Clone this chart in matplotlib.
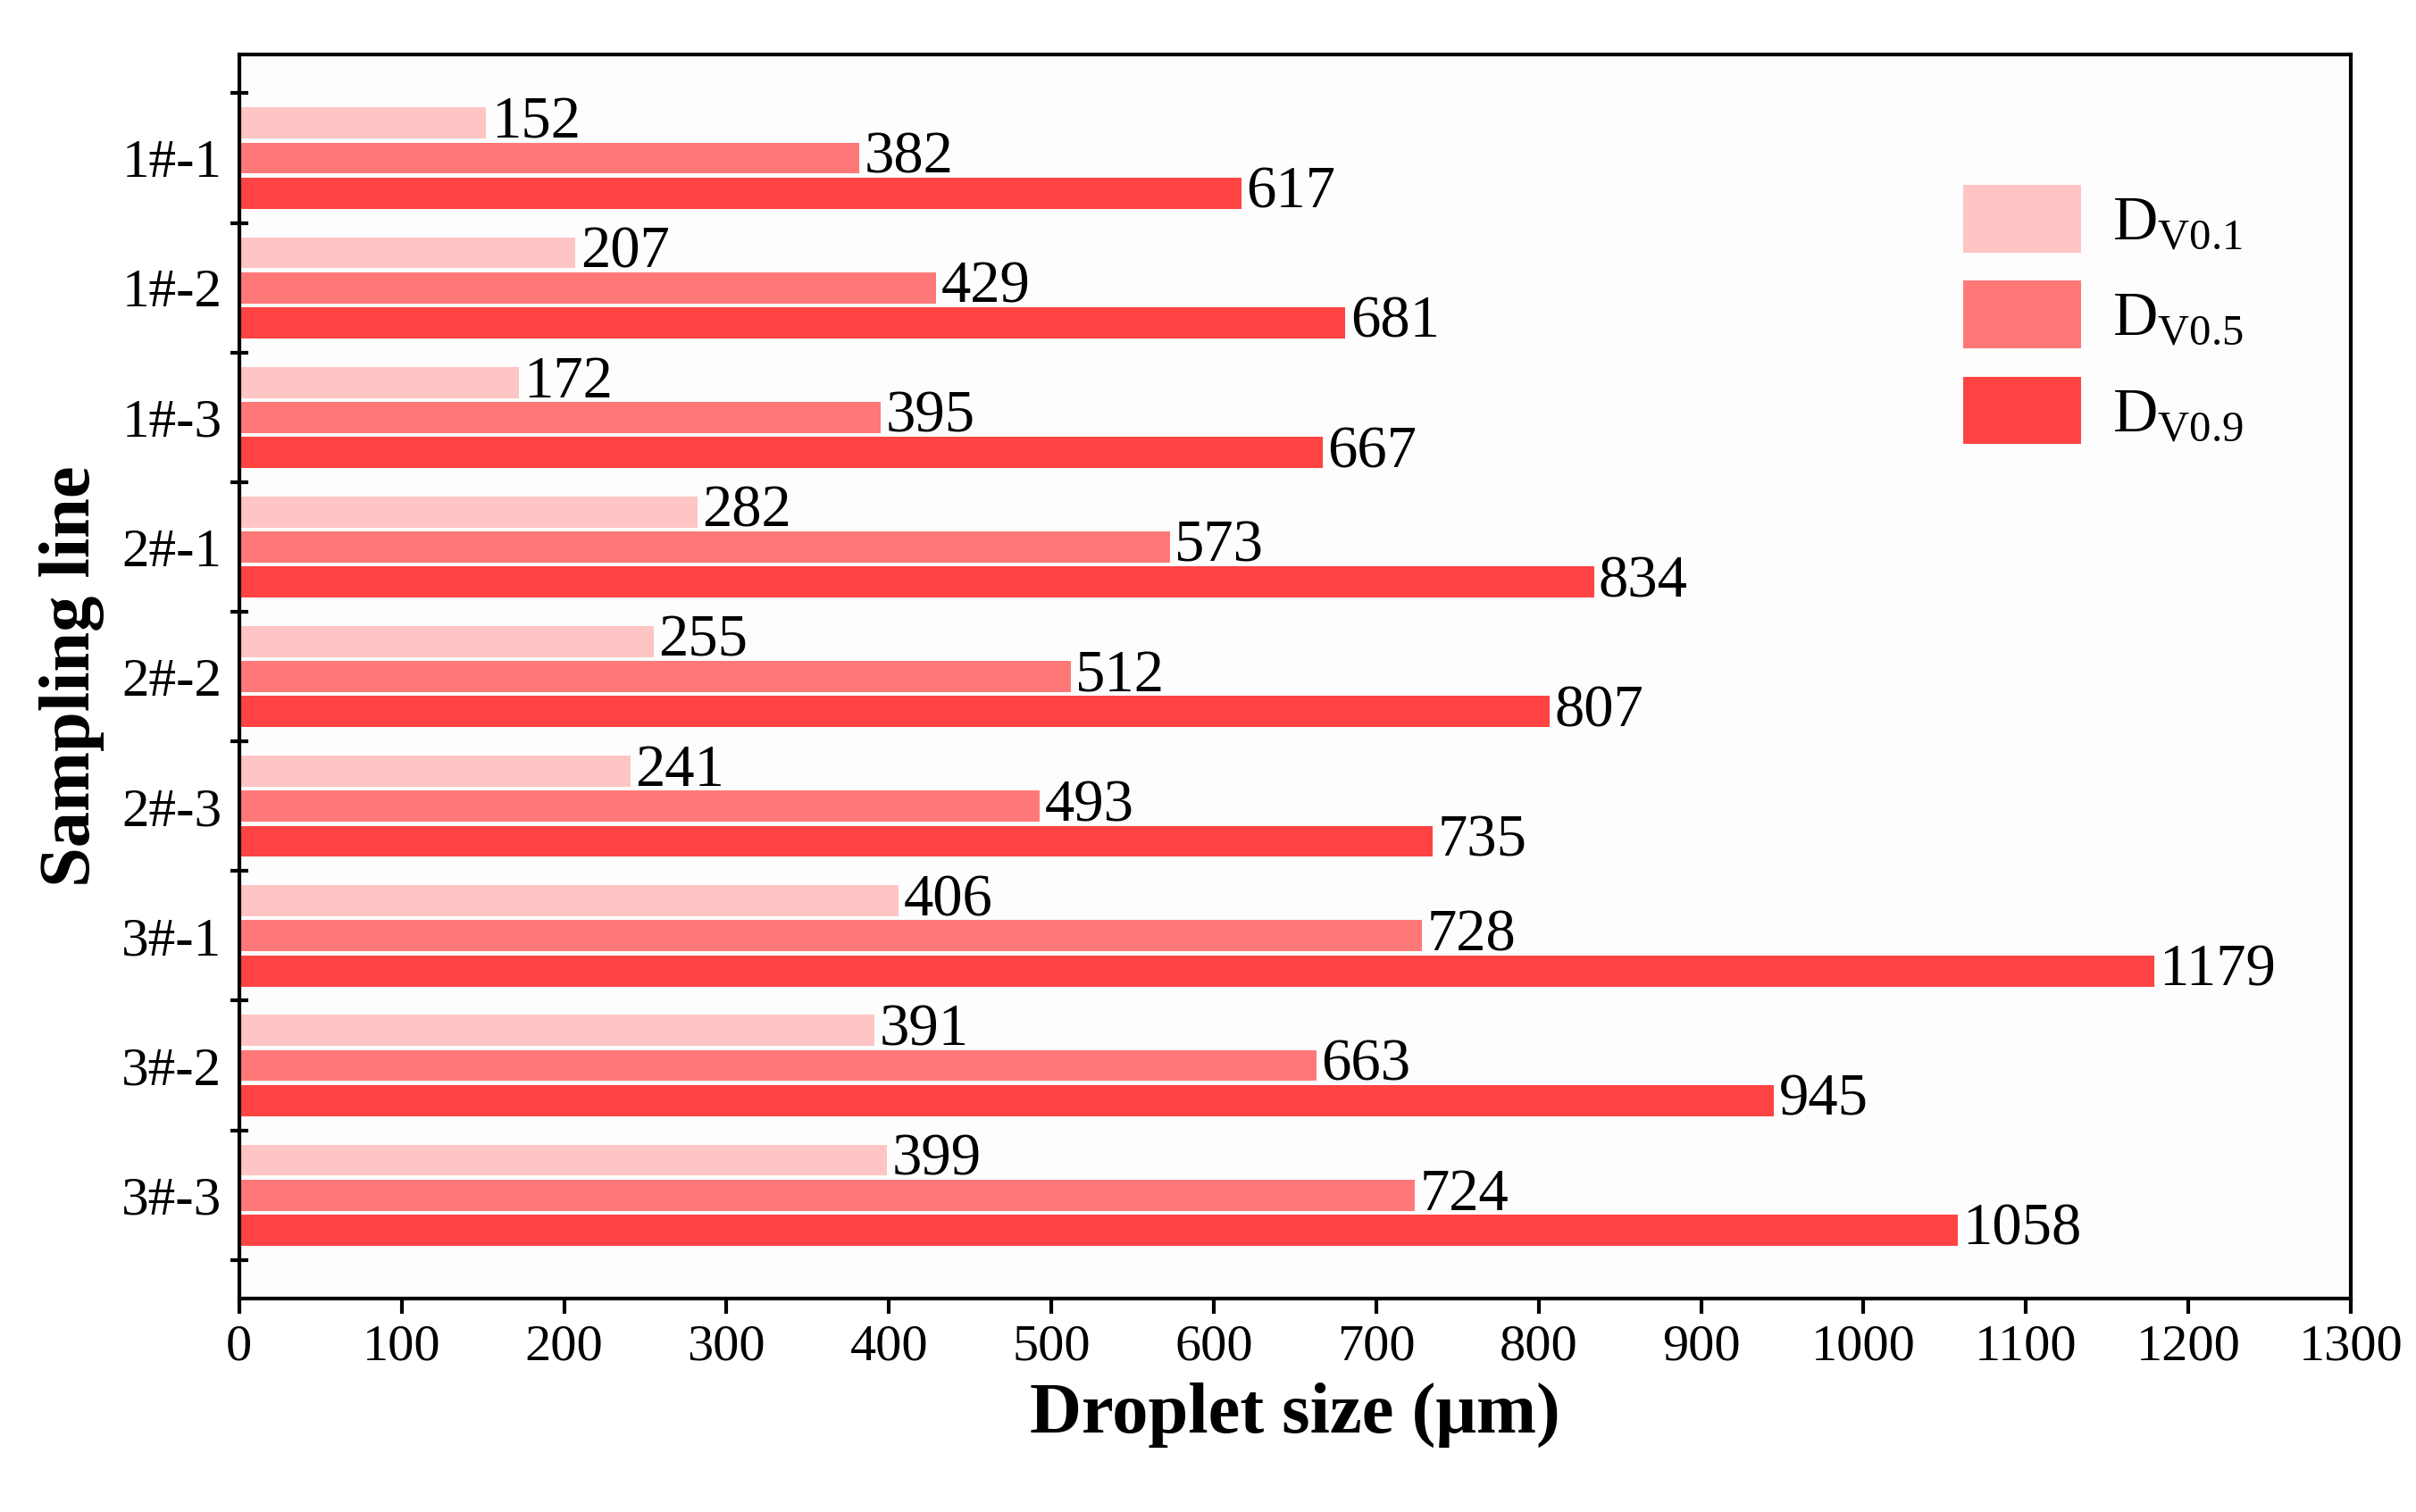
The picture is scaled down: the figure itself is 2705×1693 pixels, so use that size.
import matplotlib
matplotlib.use("Agg")
import matplotlib.pyplot as plt
import numpy as np

categories = ["1#-1","1#-2","1#-3","2#-1","2#-2","2#-3","3#-1","3#-2","3#-3"]
dv01 = [152,207,172,282,255,241,406,391,399]
dv05 = [382,429,395,573,512,493,728,663,724]
dv09 = [617,681,667,834,807,735,1179,945,1058]
labels = ["D$_{\\mathregular{V0.1}}$","D$_{\\mathregular{V0.5}}$","D$_{\\mathregular{V0.9}}$"]
colors = ["#FFC4C4","#FF7878","#FF4343"]

plt.rcParams['font.family'] = ['Liberation Serif']
plt.rcParams['mathtext.fontset'] = 'custom'
plt.rcParams['mathtext.rm'] = 'Liberation Serif'
fig = plt.figure(figsize=(27.05,16.93), dpi=100)
ax = fig.add_axes([0.099,0.141,0.874,0.823])
ax.set_facecolor("#FDFDFD")
y = np.arange(len(categories))
off = 0.27; h = 0.24
for k,(vals,c,lab) in enumerate(zip([dv01,dv05,dv09],colors,labels)):
    pos = y + (k-1)*off
    ax.barh(pos, vals, height=h, color=c, label=lab)
    for p,v in zip(pos,vals):
        ax.text(v+3, p, str(v), va='center', ha='left', fontsize=48)
ax.set_ylim(8.8,-0.8)
ax.set_xlim(0,1300)
ax.set_xticks(np.arange(0,1301,100))
ax.set_yticks(y)
ax.set_yticklabels(categories)
ax.set_yticks(np.arange(-0.5,9,1), minor=True)
ax.tick_params(axis='y', which='major', length=0, labelsize=44, pad=14)
ax.tick_params(axis='y', which='minor', length=14, width=3, direction='inout')
ax.tick_params(axis='x', length=12, width=3, labelsize=42, direction='out', pad=8)
for s in ax.spines.values():
    s.set_linewidth(3)
ax.set_xlabel("Droplet size (μm)", fontsize=58, fontweight='bold', labelpad=10)
ax.set_ylabel("Sampling line", fontsize=58, fontweight='bold', labelpad=14)
ax.legend(loc='upper left', bbox_to_anchor=(0.79,0.94), frameon=False, fontsize=50,
          handlelength=1.9, handleheight=1.3, labelspacing=0.45, handletextpad=0.5)
fig.savefig("out.png", dpi=100)
